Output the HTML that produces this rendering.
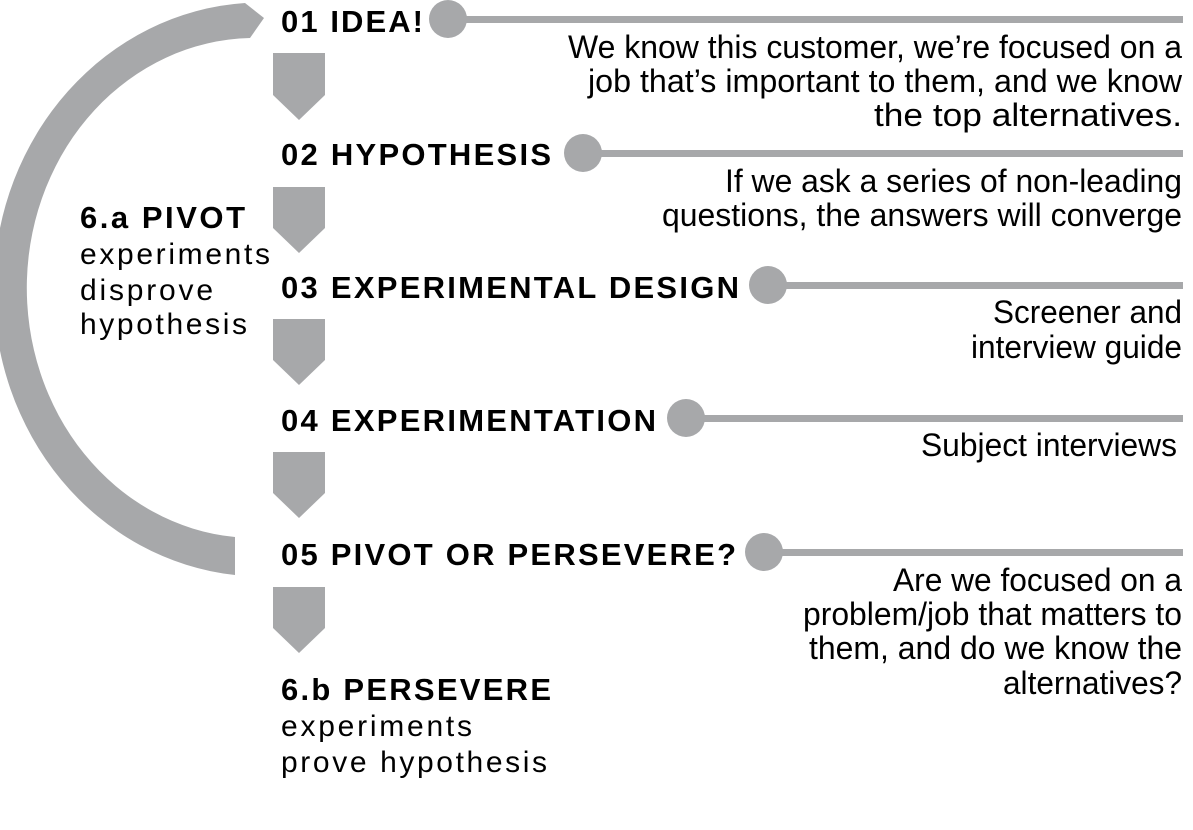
<!DOCTYPE html>
<html><head><meta charset="utf-8"><style>
html,body{margin:0;padding:0;background:#fff;}
svg{display:block;}
.h{font-family:"Liberation Sans",sans-serif;font-weight:bold;font-size:31px;fill:#000;}
.b{font-family:"Liberation Sans Narrow","Liberation Sans",sans-serif;font-size:32px;fill:#000;}
.l{font-family:"Liberation Sans",sans-serif;font-size:30px;fill:#000;}
</style></head><body>
<svg width="1193" height="830" viewBox="0 0 1193 830" xmlns="http://www.w3.org/2000/svg">
<g fill="#a7a8aa">
<path d="M245,3 A268 287 0 0 0 235,575 L235,537 A228 250 0 0 1 250,38 L264,18 Z"/>
<polygon points="273,53 325,53 325,95 299,120 273,95"/>
<polygon points="273,187 325,187 325,228 299,253 273,228"/>
<polygon points="273,319 325,319 325,360 299,385 273,360"/>
<polygon points="273,452 325,452 325,493 299,518 273,493"/>
<polygon points="273,587 325,587 325,628 299,653 273,628"/>
<circle cx="448" cy="19" r="19"/><rect x="448" y="16" width="735" height="7"/>
<circle cx="583" cy="153" r="19"/><rect x="583" y="150" width="600" height="7"/>
<circle cx="768" cy="285" r="19"/><rect x="768" y="282" width="415" height="7"/>
<circle cx="686" cy="418" r="19"/><rect x="686" y="415" width="497" height="7"/>
<circle cx="764" cy="552" r="19"/><rect x="764" y="549" width="419" height="7"/>
</g>
<text class="h" x="281" y="32" textLength="142" lengthAdjust="spacing">01 IDEA!</text>
<text class="h" x="281" y="165" textLength="270" lengthAdjust="spacing">02 HYPOTHESIS</text>
<text class="h" x="281" y="298" textLength="458" lengthAdjust="spacing">03 EXPERIMENTAL DESIGN</text>
<text class="h" x="281" y="431" textLength="375" lengthAdjust="spacing">04 EXPERIMENTATION</text>
<text class="h" x="281" y="565" textLength="455" lengthAdjust="spacing">05 PIVOT OR PERSEVERE?</text>
<text class="h" x="80" y="228" textLength="165" lengthAdjust="spacing">6.a PIVOT</text>
<text class="l" x="80" y="264" textLength="190" lengthAdjust="spacing">experiments</text>
<text class="l" x="80" y="300" textLength="133" lengthAdjust="spacing">disprove</text>
<text class="l" x="80" y="334" textLength="167" lengthAdjust="spacing">hypothesis</text>
<text class="h" x="281" y="700" textLength="270" lengthAdjust="spacing">6.b PERSEVERE</text>
<text class="l" x="281" y="736" textLength="191" lengthAdjust="spacing">experiments</text>
<text class="l" x="281" y="772" textLength="266" lengthAdjust="spacing">prove hypothesis</text>
<g class="b" text-anchor="end">
<text x="1182" y="58" textLength="614" lengthAdjust="spacingAndGlyphs">We know this customer, we’re focused on a</text>
<text x="1182" y="92" textLength="594" lengthAdjust="spacingAndGlyphs">job that’s important to them, and we know</text>
<text x="1182" y="126" textLength="308" lengthAdjust="spacingAndGlyphs">the top alternatives.</text>
<text x="1182" y="192" textLength="457" lengthAdjust="spacingAndGlyphs">If we ask a series of non-leading</text>
<text x="1182" y="226" textLength="520" lengthAdjust="spacingAndGlyphs">questions, the answers will converge</text>
<text x="1182" y="323" textLength="189" lengthAdjust="spacingAndGlyphs">Screener and</text>
<text x="1182" y="358" textLength="211" lengthAdjust="spacingAndGlyphs">interview guide</text>
<text x="1177" y="456" textLength="256" lengthAdjust="spacingAndGlyphs">Subject interviews</text>
<text x="1182" y="591" textLength="289" lengthAdjust="spacingAndGlyphs">Are we focused on a</text>
<text x="1182" y="625" textLength="379" lengthAdjust="spacingAndGlyphs">problem/job that matters to</text>
<text x="1182" y="659" textLength="373" lengthAdjust="spacingAndGlyphs">them, and do we know the</text>
<text x="1182" y="694" textLength="179" lengthAdjust="spacingAndGlyphs">alternatives?</text>
</g>
</svg>
</body></html>
